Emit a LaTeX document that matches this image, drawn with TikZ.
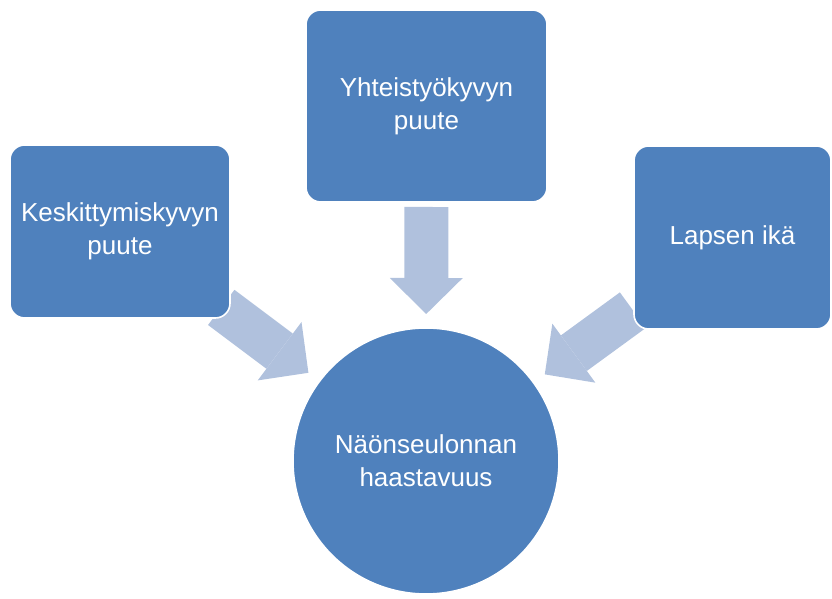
\documentclass[tikz,border=0pt]{standalone}
\usepackage{fontspec}
\setmainfont{Liberation Sans}
\usepackage{xcolor}
\usetikzlibrary{arrows.meta}
\usetikzlibrary{backgrounds}

\definecolor{boxblue}{RGB}{79,129,189}
\definecolor{flowblue}{RGB}{176,193,221}

\begin{document}
\begin{tikzpicture}[x=0.75pt, y=0.75pt]
        % ================= styles =================
        \tikzset{
            % factor boxes: rounded rectangles
            factor/.style={draw=white, line width=1.2pt, fill=boxblue, rounded corners=11pt,
                text=white, align=center, inner sep=0pt,
                font=\fontsize{19.5}{24.75}\selectfont},
            % result: big circle
            result/.style={circle, draw=white, line width=1.2pt, fill=boxblue, minimum size=199.5pt,
                text=white, align=center, inner sep=0pt,
                font=\fontsize{19.5}{24.75}\selectfont},
            % wide block arrows
            flow/.style={flowblue, line width=33pt,
                -{Triangle[width=54.75pt, length=27pt, line width=0pt]}, shorten >=110.25pt}
        }

        \useasboundingbox (0,0) rectangle (832,599);

        % ================= centre =================
        \node[result] (hub) at (426, 138) {Näönseulonnan\\haastavuus};

        % ================= three factors =================
        \node[factor, minimum width=165pt, minimum height=129.75pt] (focus) at (120, 367.5) {Keskittymiskyvyn\\puute};
        \node[factor, minimum width=180.75pt, minimum height=144pt] (coop) at (426.5, 493) {Yhteistyökyvyn\\puute};
        \node[factor, minimum width=147.75pt, minimum height=137.25pt] (age) at (732.5, 361.5) {Lapsen ikä};

        % ================= arrows (behind the boxes) =================
        \begin{scope}[on background layer]
            \draw[flow, shorten <=94.9pt] (focus.center) -- (hub.center);
            \draw[flow, shorten <=75.75pt] (coop.center) -- (hub.center);
            \draw[flow, shorten <=92.5pt] (age.center) -- (hub.center);
        \end{scope}

\end{tikzpicture}
\end{document}
